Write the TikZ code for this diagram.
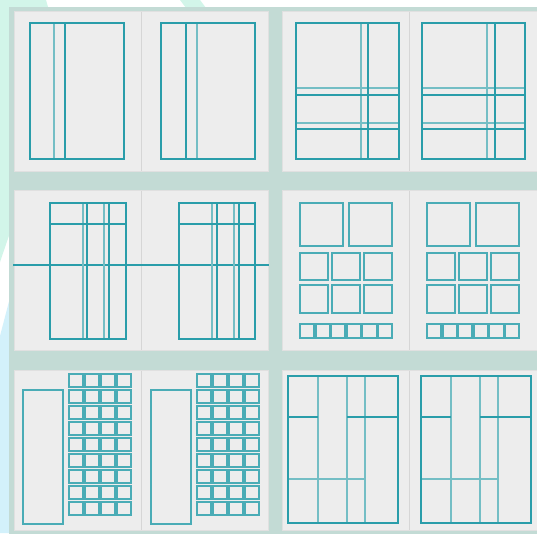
\documentclass[tikz,border=0pt]{standalone}
\begin{document}
\begin{tikzpicture}[x=1pt,y=-1pt,
  page/.style={fill=pagegray, draw=pageedge, line width=1},
  gl/.style={draw=tealD, line width=1.8},
  gf/.style={draw=tealL, line width=1.8},
  gs/.style={draw=tealM, line width=1.8}]
\definecolor{sage}{HTML}{C3DBD5}
\definecolor{pagegray}{HTML}{EDEDED}
\definecolor{pageedge}{HTML}{E0E0E0}
\definecolor{divider}{HTML}{D6D6D6}
\definecolor{tealD}{HTML}{2A9DAA}
\definecolor{tealL}{HTML}{74BEC5}
\definecolor{tealM}{HTML}{4AACB6}
\definecolor{mint}{HTML}{D2F5E9}
\definecolor{skyb}{HTML}{D3F1FB}
\useasboundingbox (0,0) rectangle (537,533);
\fill[white] (0,0) rectangle (537,533);
% decorations
\fill[mint] (0,0) -- (46,0) -- (48,7) -- (45,130) -- (0,262) -- cycle;
\fill[mint] (180,0) -- (200,0) -- (206,8) -- (186,8) -- cycle;
\fill[skyb] (0,336) -- (12,290) -- (30,290) -- (30,533) -- (0,533) -- cycle;
% sage panel
\fill[sage] (9,7) rectangle (540,540);
% pages
\foreach \ya/\yb in {11.5/171, 190.5/350, 370.5/530}{
  \filldraw[page] (14,\ya) rectangle (268.5,\yb);
  \draw[divider, line width=1] (141.5,\ya) -- (141.5,\yb);
  \filldraw[page] (282,\ya) rectangle (540,\yb);
  \draw[divider, line width=1] (409,\ya) -- (409,\yb);
}
% ---------- Row 1, spread A
\draw[gf] (54,23) -- (54,159);
\draw[gl] (65,23) -- (65,159);
\draw[gl] (30,23) rectangle (124,159);
\draw[gf] (197,23) -- (197,159);
\draw[gl] (186,23) -- (186,159);
\draw[gl] (161,23) rectangle (255,159);
% ---------- Row 1, spread B
\foreach \xa/\xb/\xc/\xd in {296/361/368/399, 422/487/495/525}{
  \draw[gf] (\xb,23) -- (\xb,159);
  \draw[gf] (\xa,88) -- (\xd,88) (\xa,123) -- (\xd,123);
  \draw[gl] (\xc,23) -- (\xc,159);
  \draw[gl] (\xa,95) -- (\xd,95) (\xa,129) -- (\xd,129);
  \draw[gl] (\xa,23) rectangle (\xd,159);
}
% ---------- Row 2, spread A
\draw[gl] (13,265) -- (269,265);
\foreach \xa/\xb/\xc/\xd/\xe/\xf in {50/83/87/104/109/126, 179/212/217/234/239/255}{
  \draw[gf] (\xb,203) -- (\xb,339) (\xd,203) -- (\xd,339);
  \draw[gl] (\xc,203) -- (\xc,339) (\xe,203) -- (\xe,339);
  \draw[gl] (\xa,224) -- (\xf,224);
  \draw[gl] (\xa,203) rectangle (\xf,339);
}
% ---------- Row 2, spread B
\foreach \xo in {300, 427}{
  \draw[gs] (\xo,203) rectangle ++(43,43);
  \draw[gs] (\xo+49,203) rectangle ++(43,43);
  \foreach \i in {0,1,2}{
    \draw[gs] (\xo+\i*32,253) rectangle ++(28,27);
    \draw[gs] (\xo+\i*32,285) rectangle ++(28,28);
  }
  \foreach \i in {0,...,5}{
    \draw[gs] (\xo+\i*15.6,324) rectangle ++(14,14);
  }
}
% ---------- Row 3, spread A
\foreach \xt/\xg in {23/69, 151/197}{
  \draw[gs] (\xt,390) rectangle ++(40,134);
  \foreach \i in {0,...,3}{
    \foreach \j in {0,...,8}{
      \draw[gs] (\xg+\i*16,374+\j*16) rectangle ++(14,13);
    }
  }
}
% ---------- Row 3, spread B
\foreach \xa/\xb/\xc/\xd/\xe in {288/318/347/365/398, 421/451/480/498/531}{
  \draw[gf] (\xb,376) -- (\xb,523) (\xc,376) -- (\xc,523) (\xd,376) -- (\xd,523);
  \draw[gl] (\xa,417) -- (\xb,417) (\xc,417) -- (\xe,417);
  \draw[gf] (\xa,479) -- (\xd,479);
  \draw[gl] (\xa,376) rectangle (\xe,523);
}
\end{tikzpicture}
\end{document}
